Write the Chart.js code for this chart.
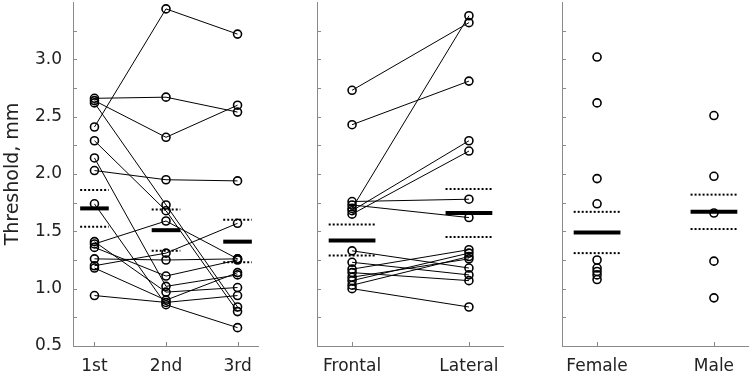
<!DOCTYPE html>
<html>
<head>
<meta charset="utf-8">
<script src="https://cdn.jsdelivr.net/npm/chart.js@4.4.0/dist/chart.umd.min.js"></script>
<style>
  html, body { margin: 0; padding: 0; background: #fff; }
  #wrap { position: relative; width: 749px; height: 377px; overflow: hidden; }
  canvas { position: absolute; top: 0; }
</style>
</head>
<body>
<div id="wrap">
  <canvas id="session" width="259" height="377" style="left:0px"></canvas>
  <canvas id="position" width="192" height="377" style="left:312px"></canvas>
  <canvas id="sex" width="192" height="377" style="left:557px"></canvas>
</div>
<script>
// --- session panel: each subject measured 1st, 2nd, 3rd time
const sessionLabels = ["1st", "2nd", "3rd"];
const sessionSubjects = [
  [2.41, 3.44, 3.22],
  [2.66, 2.67, 2.54],
  [2.64, 2.32, 2.60],
  [2.03, 1.95, 1.94],
  [2.62, 1.73, 0.84],
  [2.29, 1.68, 0.80],
  [2.14, 1.02, 1.12],
  [1.74, 0.86, 0.66],
  [1.39, 1.59, 1.26],
  [1.41, 0.97, 1.01],
  [1.36, 1.11, 1.25],
  [1.26, 1.25, 1.26],
  [1.20, 1.31, 1.57],
  [1.18, 0.90, 1.14],
  [0.94, 0.88, 0.94]
];
const sessionMean = [1.70, 1.51, 1.41];
const sessionUpper = [1.86, 1.69, 1.60];
const sessionLower = [1.54, 1.33, 1.23];

// --- position panel: frontal vs lateral
const positionLabels = ["Frontal", "Lateral"];
const positionSubjects = [
  [2.73, 3.32],
  [2.43, 2.81],
  [1.70, 3.38],
  [1.68, 2.29],
  [1.65, 2.20],
  [1.76, 1.78],
  [1.73, 1.62],
  [1.33, 1.18],
  [1.23, 1.12],
  [1.17, 1.34],
  [1.14, 1.07],
  [1.10, 1.26],
  [1.07, 1.31],
  [1.03, 1.28],
  [1.00, 0.84]
];
const positionMean = [1.42, 1.66];
const positionUpper = [1.56, 1.87];
const positionLower = [1.29, 1.45];

// --- sex panel: independent groups
const sexLabels = ["Female", "Male"];
const femaleValues = [3.02, 2.62, 1.96, 1.74, 1.25, 1.18, 1.15, 1.12, 1.08];
const maleValues = [2.51, 1.98, 1.66, 1.24, 0.92];
const sexMean = [1.49, 1.67];
const sexUpper = [1.67, 1.82];
const sexLower = [1.31, 1.52];

const yTicks = [0.5, 1.0, 1.5, 2.0, 2.5, 3.0];

const axisColor = "#8a8a8a";
const textColor = "#222";
const fontFamily = "'DejaVu Sans', sans-serif";
const halfWidth = 0.2;

// small tick marks pointing into the plot, like the original
const innerTicks = {
  id: "innerTicks",
  afterDraw(chart) {
    const { ctx, chartArea, scales } = chart;
    ctx.save();
    ctx.strokeStyle = axisColor;
    ctx.lineWidth = 1;
    scales.y.ticks.forEach(t => {
      if (t.value >= 3.5) return;
      const y = Math.round(scales.y.getPixelForValue(t.value)) + 0.5;
      ctx.beginPath();
      ctx.moveTo(chartArea.left, y);
      ctx.lineTo(chartArea.left + 4, y);
      ctx.stroke();
    });
    scales.x.ticks.forEach(t => {
      const x = Math.round(scales.x.getPixelForValue(t.value)) + 0.5;
      ctx.beginPath();
      ctx.moveTo(x, chartArea.bottom);
      ctx.lineTo(x, chartArea.bottom - 4);
      ctx.stroke();
    });
    ctx.restore();
  }
};

function segment(i, v, width, dash) {
  return {
    showLine: true,
    data: [{ x: i - halfWidth, y: v }, { x: i + halfWidth, y: v }],
    borderColor: "#000",
    borderWidth: width,
    borderDash: dash,
    pointRadius: 0
  };
}

function summaryDatasets(mean, upper, lower) {
  const out = [];
  mean.forEach((m, i) => {
    out.push(segment(i, upper[i], 2, [2, 2]));
    out.push(segment(i, lower[i], 2, [2, 2]));
    out.push(segment(i, m, 4, []));
  });
  return out;
}

function pointStyle(extra) {
  return Object.assign({
    borderColor: "#000",
    backgroundColor: "rgba(0,0,0,0)",
    pointRadius: 4,
    pointBorderWidth: 1.6,
    pointBorderColor: "#000",
    pointBackgroundColor: "rgba(0,0,0,0)",
    borderWidth: 1,
    tension: 0
  }, extra);
}

function makePanel(id, labels, datasets, showY) {
  const n = labels.length;
  new Chart(document.getElementById(id), {
    type: "scatter",
    data: { datasets },
    options: {
      responsive: false,
      animation: false,
      layout: { autoPadding: false, padding: { top: 2, right: 0, left: 0, bottom: 0 } },
      plugins: { legend: { display: false }, tooltip: { enabled: false } },
      scales: {
        x: {
          type: "linear",
          min: -0.3,
          max: n - 1 + 0.3,
          grid: { display: false, drawTicks: false },
          border: { display: true, color: axisColor, width: 1 },
          afterBuildTicks: s => { s.ticks = labels.map((l, i) => ({ value: i })); },
          afterFit: s => { s.height = 31; s.paddingLeft = 0; s.paddingRight = 0; },
          ticks: {
            padding: 10,
            color: textColor,
            font: { family: fontFamily, size: 17 },
            callback: v => labels[v]
          }
        },
        y: {
          min: 0.5,
          max: 3.5,
          grid: { display: false, drawTicks: false },
          border: { display: true, color: axisColor, width: 1 },
          afterFit: s => { s.width = showY ? 73 : 5; s.paddingTop = 0; s.paddingBottom = 0; },
          title: {
            display: showY,
            text: "Threshold, mm",
            color: textColor,
            font: { family: fontFamily, size: 19 },
            padding: { top: 2, bottom: 0 }
          },
          ticks: {
            display: showY,
            stepSize: 0.25,
            padding: 11,
            color: textColor,
            font: { family: fontFamily, size: 17 },
            callback: v => (yTicks.includes(v) ? v.toFixed(1) : "")
          }
        }
      }
    },
    plugins: [innerTicks]
  });
}

// session panel
const sessionSets = sessionSubjects.map(vals => pointStyle({
  showLine: true,
  data: vals.map((v, i) => ({ x: i, y: v }))
}));
makePanel("session", sessionLabels,
  summaryDatasets(sessionMean, sessionUpper, sessionLower).concat(sessionSets), true);

// position panel
const positionSets = positionSubjects.map(vals => pointStyle({
  showLine: true,
  data: vals.map((v, i) => ({ x: i, y: v }))
}));
makePanel("position", positionLabels,
  summaryDatasets(positionMean, positionUpper, positionLower).concat(positionSets), false);

// sex panel
const sexSets = [femaleValues, maleValues].map((vals, i) => pointStyle({
  showLine: false,
  data: vals.map(v => ({ x: i, y: v }))
}));
makePanel("sex", sexLabels,
  summaryDatasets(sexMean, sexUpper, sexLower).concat(sexSets), false);
</script>
</body>
</html>
